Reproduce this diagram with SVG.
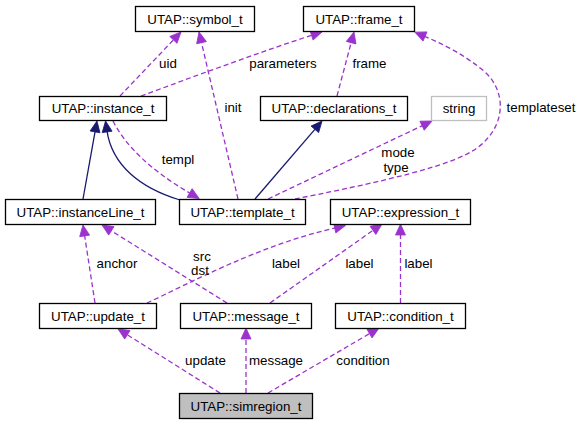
<svg xmlns="http://www.w3.org/2000/svg" width="582" height="424" viewBox="0 0 582 424">
<style>
text{font-family:"Liberation Sans",Arial,Helvetica,sans-serif;font-size:13.33px;fill:#000;text-anchor:middle}
.box{fill:#fff;stroke:#000;stroke-width:1.3}
.gbox{fill:#fff;stroke:#bfbfbf;stroke-width:1.3}
.cur{fill:#bfbfbf;stroke:#000;stroke-width:1.3}
.u{fill:none;stroke:#9a32cd;stroke-width:1.3;stroke-dasharray:5,3;marker-end:url(#ap)}
.i{fill:none;stroke:#191970;stroke-width:1.3;marker-end:url(#an)}
</style>
<defs>
<marker id="ap" markerUnits="userSpaceOnUse" markerWidth="12" markerHeight="11" refX="1" refY="5" orient="auto" viewBox="0 0 12 10" overflow="visible"><path d="M0,0L11,5L0,10z" fill="#9a32cd" stroke="#9a32cd" stroke-width="0.8"/></marker>
<marker id="an" markerUnits="userSpaceOnUse" markerWidth="12" markerHeight="11" refX="1" refY="5" orient="auto" viewBox="0 0 12 10" overflow="visible"><path d="M0,0L11,5L0,10z" fill="#191970" stroke="#191970" stroke-width="0.8"/></marker>
</defs>
<rect width="582" height="424" fill="#fff"/>
<g id="edges">
<path class="u" d="M120,96L174.1,39.2"/>
<path class="u" d="M141,96C190,78 260,52 312.5,35"/>
<path class="u" d="M238,199L201.3,41.7"/>
<path class="u" d="M337,96L351.4,41.7"/>
<path class="u" d="M295,199C350,188 430,172 465,155C505,136 510,95 485,72C465,55 445,45 424.1,36.1"/>
<path class="u" d="M268,199L423,125.3"/>
<path class="u" d="M113,121C125,145 150,170 190.5,193.5"/>
<path class="i" d="M83,199L95.2,130.9"/>
<path class="i" d="M180,200C140,188 112,165 107,130.9"/>
<path class="i" d="M255,199L315.5,128.6"/>
<path class="u" d="M95,303L84.5,234.9"/>
<path class="u" d="M227,303L110.5,230.3"/>
<path class="u" d="M147,303C190,283 260,245 335.7,227.8"/>
<path class="u" d="M270,303L373.8,229.8"/>
<path class="u" d="M400.5,303L400.5,234"/>
<path class="u" d="M220,393L126.5,334.3"/>
<path class="u" d="M246,393L246,338"/>
<path class="u" d="M268,393L370.4,333.1"/>
<text x="168" y="67.5">uid</text>
<text x="283" y="67.5">parameters</text>
<text x="233" y="111.5">init</text>
<text x="369.5" y="67.5">frame</text>
<text x="541" y="111.5">templateset</text>
<text x="178" y="163.5">templ</text>
<text x="398" y="156.5">mode</text>
<text x="396" y="171.5">type</text>
<text x="117" y="267.5">anchor</text>
<text x="202" y="260.5">src</text>
<text x="200" y="274.5">dst</text>
<text x="286" y="267.5">label</text>
<text x="359.5" y="267.5">label</text>
<text x="418.5" y="267.5">label</text>
<text x="205.5" y="364.5">update</text>
<text x="276" y="364.5">message</text>
<text x="363" y="364.5">condition</text>
</g>
<g id="symbol_t"><rect class="box" x="135.5" y="6.5" width="119" height="25"/><text x="195" y="23.5">UTAP::symbol_t</text></g>
<g id="frame_t"><rect class="box" x="303.5" y="6.5" width="111" height="25"/><text x="359" y="23.5">UTAP::frame_t</text></g>
<g id="instance_t"><rect class="box" x="39.5" y="96.5" width="127" height="24"/><text x="103" y="113">UTAP::instance_t</text></g>
<g id="declarations_t"><rect class="box" x="260.5" y="96.5" width="147" height="24"/><text x="334" y="113">UTAP::declarations_t</text></g>
<g id="string"><rect class="gbox" x="431.5" y="96.5" width="55" height="24"/><text x="459" y="113">string</text></g>
<g id="instanceLine_t"><rect class="box" x="5.5" y="199.5" width="150" height="25"/><text x="80.5" y="216.5">UTAP::instanceLine_t</text></g>
<g id="template_t"><rect class="box" x="179.5" y="199.5" width="126" height="25"/><text x="242.5" y="216.5">UTAP::template_t</text></g>
<g id="expression_t"><rect class="box" x="330.5" y="199.5" width="140" height="25"/><text x="400.5" y="216.5">UTAP::expression_t</text></g>
<g id="update_t"><rect class="box" x="39.5" y="303.5" width="117" height="25"/><text x="98" y="320.5">UTAP::update_t</text></g>
<g id="message_t"><rect class="box" x="180.5" y="303.5" width="131" height="25"/><text x="246" y="320.5">UTAP::message_t</text></g>
<g id="condition_t"><rect class="box" x="335.5" y="303.5" width="130" height="25"/><text x="400.5" y="320.5">UTAP::condition_t</text></g>
<g id="simregion_t"><rect class="cur" x="179.5" y="393.5" width="133" height="25"/><text x="246" y="410.5">UTAP::simregion_t</text></g>
</svg>
